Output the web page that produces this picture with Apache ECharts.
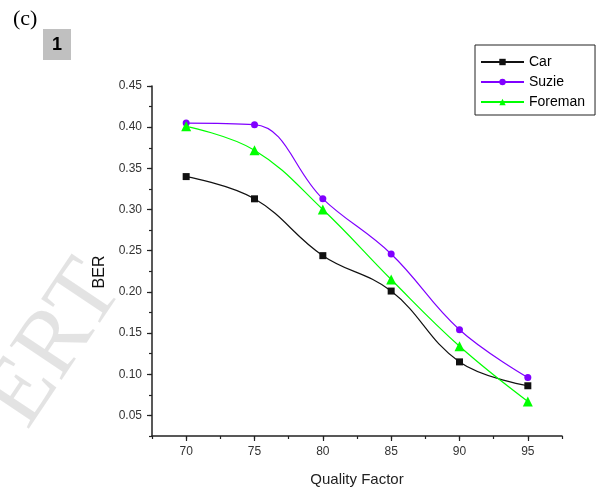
<!DOCTYPE html>
<html>
<head>
<meta charset="utf-8">
<script src="https://cdn.jsdelivr.net/npm/echarts@6/dist/echarts.min.js"></script>
<style>
  html, body { margin: 0; padding: 0; background: #fff; }
  #chart { width: 608px; height: 500px; }
</style>
</head>
<body>
<div id="chart"></div>
<script>
// 数据
const quality = [70, 75, 80, 85, 90, 95];
const car = [0.340, 0.313, 0.244, 0.201, 0.115, 0.086];
const suzie = [0.405, 0.403, 0.313, 0.246, 0.154, 0.096];
const foreman = [0.401, 0.372, 0.300, 0.215, 0.134, 0.067];
const xTicks = [70, 75, 80, 85, 90, 95];
const yTicks = [0.05, 0.10, 0.15, 0.20, 0.25, 0.30, 0.35, 0.40, 0.45];

const pairs = (ys) => quality.map((q, i) => [q, ys[i]]);

const axisColor = '#222';
const font = 'Liberation Sans, Arial, sans-serif';

const chart = echarts.init(document.getElementById('chart'));

const makeSeries = (name, ys, color, symbol, size) => ({
  name,
  type: 'line',
  xAxisIndex: 0,
  yAxisIndex: 0,
  data: pairs(ys),
  smooth: 0.4,
  symbol,
  symbolSize: size,
  showAllSymbol: true,
  itemStyle: { color },
  lineStyle: { color, width: 1.2 },
});

chart.setOption({
  animation: false,
  backgroundColor: '#fff',
  grid: { left: 152, top: 86, right: 46, bottom: 64 },
  legend: {
    orient: 'vertical',
    left: 475,
    top: 45,
    borderColor: '#222',
    borderWidth: 1,
    padding: [9, 10, 5, 5],
    itemWidth: 43,
    itemHeight: 8,
    itemGap: 4,
    textStyle: { fontFamily: font, fontSize: 14, color: '#000', lineHeight: 16 },
    data: ['Car', 'Suzie', 'Foreman'],
  },
  xAxis: [
    {
      type: 'value',
      min: 67.5,
      max: 97.5,
      name: 'Quality Factor',
      nameLocation: 'middle',
      nameGap: 36,
      nameTextStyle: { fontFamily: font, fontSize: 15, color: '#222' },
      axisLine: { lineStyle: { color: axisColor, width: 1.5 } },
      axisTick: { customValues: xTicks, length: 5, lineStyle: { color: axisColor, width: 1.2 } },
      axisLabel: { customValues: xTicks, margin: 10, fontFamily: font, fontSize: 12, color: '#333' },
      splitLine: { show: false },
    },
    {
      type: 'value',
      position: 'bottom',
      min: 67.5,
      max: 97.5,
      interval: 2.5,
      axisLine: { show: false },
      axisTick: { length: 3, lineStyle: { color: axisColor, width: 1.2 } },
      axisLabel: { show: false },
      splitLine: { show: false },
    },
  ],
  yAxis: [
    {
      type: 'value',
      min: 0.025,
      max: 0.45,
      name: 'BER',
      nameLocation: 'middle',
      nameGap: 44,
      nameTextStyle: { fontFamily: font, fontSize: 16, color: '#111', padding: [0, 0, 0, -22] },
      axisLine: { show: true, lineStyle: { color: axisColor, width: 1.5 } },
      axisTick: { show: true, customValues: yTicks, length: 5, lineStyle: { color: axisColor, width: 1.2 } },
      axisLabel: {
        customValues: yTicks,
        margin: 10,
        fontFamily: font,
        fontSize: 12,
        color: '#333',
        formatter: (v) => v.toFixed(2),
      },
      splitLine: { show: false },
    },
    {
      type: 'value',
      position: 'left',
      min: 0.025,
      max: 0.45,
      interval: 0.025,
      axisLine: { show: false },
      axisTick: { show: true, length: 3, lineStyle: { color: axisColor, width: 1.2 } },
      axisLabel: { show: false },
      splitLine: { show: false },
    },
  ],
  graphic: [
    {
      type: 'text',
      left: 13,
      top: 8,
      style: { text: '(c)', font: '22px "Liberation Serif", "Times New Roman", serif', fill: '#000' },
    },
    {
      type: 'rect',
      shape: { x: 43, y: 29, width: 28, height: 31 },
      style: { fill: '#c0c0c0' },
    },
    {
      type: 'text',
      x: 57,
      y: 45,
      style: {
        text: '1',
        font: 'bold 18px "Liberation Sans", Arial, sans-serif',
        fill: '#000',
        align: 'center',
        verticalAlign: 'middle',
      },
    },
    {
      type: 'text',
      x: 55,
      y: 345,
      rotation: 0.98,
      z: -1,
      style: {
        text: 'ERT',
        font: '95px "Liberation Serif", "Times New Roman", serif',
        fill: 'rgba(0,0,0,0.11)',
        align: 'center',
        verticalAlign: 'middle',
      },
    },
  ],
  series: [
    makeSeries('Car', car, '#111', 'rect', 7),
    makeSeries('Suzie', suzie, '#8000ff', 'circle', 7),
    makeSeries('Foreman', foreman, '#00ff00', 'triangle', 10),
  ],
});
</script>
</body>
</html>
